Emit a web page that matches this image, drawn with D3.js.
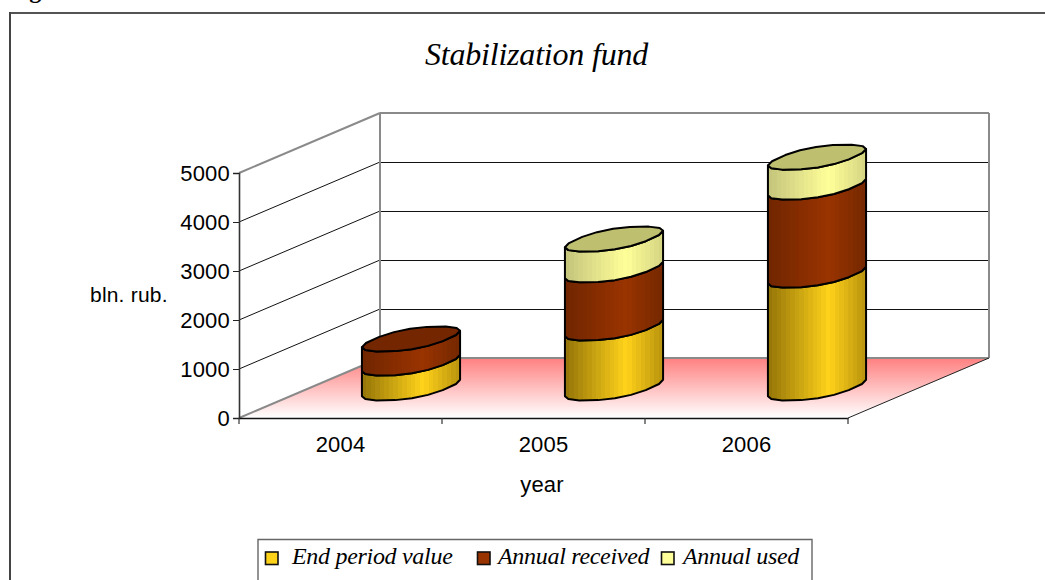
<!DOCTYPE html>
<html><head><meta charset="utf-8">
<script src="https://cdnjs.cloudflare.com/ajax/libs/d3/7.8.5/d3.min.js"></script>
<style>html,body{margin:0;padding:0;background:#fff;overflow:hidden}svg{display:block}</style>
</head><body><div id="chart"></div>
<script>
const categories = ["2004", "2005", "2006"];
const seriesNames = ["End period value", "Annual received", "Annual used"];
const endPeriodValue = [510, 1225, 2305];
const annualReceived = [490, 1185, 1795];
const annualUsed = [0, 630, 610];
const yTicks = [0, 1000, 2000, 3000, 4000, 5000];
const seriesValues = [endPeriodValue, annualReceived, annualUsed];

const seriesColors = [
  {left:"#937408", mid:"#ffd21a", right:"#b8930e", cap:"#c8a010"},
  {left:"#702500", mid:"#993300", right:"#742800", cap:"#732600"},
  {left:"#c4c47c", mid:"#ffff99", right:"#d4d482", cap:"#bfbf70"}
];

const W = 1045, H = 580;
const svg = d3.select("#chart").append("svg").attr("width", W).attr("height", H);
const defs = svg.append("defs");

const x = d3.scaleBand().domain(categories).range([239, 848]);
const y = d3.scaleLinear().domain([0, 5000]).range([418, 173]);
const depth = {x: 141, y: -60};
const backX = v => v + depth.x;
const backY = v => y(v) + depth.y;
const crisp = v => Math.round(v) + 0.5;

// frame
svg.append("line").attr("x1",10).attr("x2",W).attr("y1",13).attr("y2",13).attr("stroke","#1a1a1a").attr("stroke-width",1.6);
svg.append("line").attr("x1",10).attr("x2",10).attr("y1",12).attr("y2",H).attr("stroke","#444").attr("stroke-width",2);
svg.append("text").attr("x",8).attr("y",-2.5).attr("font-family","Liberation Serif").attr("font-weight","bold").attr("font-size",24).text("Figure");

// title
svg.append("text").attr("x",536.5).attr("y",65).attr("text-anchor","middle")
  .attr("font-family","Liberation Serif").attr("font-style","italic").attr("font-size",32).attr("letter-spacing",-0.2)
  .text("Stabilization fund");

// floor
const fg = defs.append("linearGradient").attr("id","floor").attr("x1",0).attr("x2",0).attr("y1",0).attr("y2",1);
fg.append("stop").attr("offset",0).attr("stop-color","#ff8080");
fg.append("stop").attr("offset",1).attr("stop-color","#ffffff");
const x0 = x.range()[0], x1 = x.range()[1];
svg.append("polygon").attr("fill","url(#floor)")
  .attr("points",[[x0,y(0)],[x1,y(0)],[backX(x1),backY(0)],[backX(x0),backY(0)]].join(" "));

// gridlines
yTicks.filter(t => t > 0 && t < 5000).forEach(t => {
  svg.append("line").attr("x1",x0).attr("y1",y(t)).attr("x2",backX(x0)).attr("y2",backY(t)).attr("stroke","#111").attr("stroke-width",1);
  svg.append("line").attr("x1",backX(x0)).attr("y1",crisp(backY(t))).attr("x2",backX(x1)).attr("y2",crisp(backY(t))).attr("stroke","#111").attr("stroke-width",1);
});
// walls
const wall = "#8a8a8a";
const wl = (a,b,c,d) => svg.append("line").attr("x1",a).attr("y1",b).attr("x2",c).attr("y2",d).attr("stroke",wall).attr("stroke-width",2);
wl(x0,y(5000),backX(x0),backY(5000));
wl(backX(x0),backY(5000),backX(x1),backY(5000));
wl(backX(x0),backY(5000),backX(x0),backY(0));
wl(backX(x1),backY(5000),backX(x1),backY(0));
wl(backX(x0),backY(0),backX(x1),backY(0));
wl(x0,y(0),backX(x0),backY(0));
svg.append("line").attr("x1",x1).attr("y1",y(0)).attr("x2",backX(x1)).attr("y2",backY(0)).attr("stroke","#222").attr("stroke-width",1);

// axes
const fontAxis = sel => sel.attr("font-family","Liberation Sans").attr("font-size",22).attr("letter-spacing",0.2).attr("fill","#000");
const yAxis = svg.append("g").attr("transform",`translate(${x0},0)`)
  .call(d3.axisLeft(y).tickValues(yTicks).tickSize(6).tickPadding(3).tickFormat(d3.format("d")));
yAxis.select(".domain").attr("stroke","#333").attr("stroke-width",1.6);
yAxis.selectAll("line").attr("stroke","#222");
yAxis.selectAll("text").call(fontAxis);
const xAxis = svg.append("g").attr("transform",`translate(0,${y(0)})`)
  .call(d3.axisBottom(x).tickSize(0).tickPadding(18));
xAxis.select(".domain").attr("stroke","#111").attr("stroke-width",1.4);
xAxis.selectAll("text").call(fontAxis);
[...categories.map(c => x(c)), x1].forEach(p =>
  svg.append("line").attr("x1",p).attr("x2",p).attr("y1",y(0)).attr("y2",y(0)+6).attr("stroke","#333").attr("stroke-width",1.2));

svg.append("text").call(fontAxis).attr("x",90).attr("y",302).attr("font-size",21).text("bln. rub.");
svg.append("text").call(fontAxis).attr("x",542).attr("y",492).attr("text-anchor","middle").text("year");

// banded gradients for cylinder bodies
const bands = 22;
seriesColors.forEach((c,i) => {
  const g = defs.append("linearGradient").attr("id","body"+i).attr("x1",0).attr("x2",1).attr("y1",0).attr("y2",0);
  const scale = d3.scaleLinear().domain([0,0.62,1]).range([c.left,c.mid,c.right]);
  d3.range(bands).forEach(b => {
    const col = scale((b+0.5)/bands);
    g.append("stop").attr("offset",b/bands).attr("stop-color",col);
    g.append("stop").attr("offset",(b+1)/bands).attr("stop-color",col);
  });
});

// cylinder geometry: a coarse, slightly squared circle skewed on the floor plane
const rx = 36.9, skewX = 28.6, skewY = 12.5, sides = 8, squareness = 0.85;
const phase0 = Math.atan2(skewX, rx);
const sq = v => Math.sign(v) * Math.pow(Math.abs(v), squareness);
const ringPoint = (cx, cy, t) => {
  const c = sq(Math.cos(t)), s = sq(Math.sin(t));
  return [cx + rx*c + skewX*s, cy - skewY*s];
};
const front = (cx, cy) => d3.range(sides+1).map(i => ringPoint(cx, cy, Math.PI + phase0 + (i/sides)*Math.PI));
const ring = (cx, cy) => d3.range(sides*2).map(i => ringPoint(cx, cy, phase0 + (i/(sides*2))*2*Math.PI));
const closed = d3.line().curve(d3.curveLinearClosed);

categories.forEach((cat,ci) => {
  const cx = x(cat) + x.bandwidth()/2 + depth.x/2;
  const centerY = v => y(v) + depth.y/2;
  let base = 0;
  const g = svg.append("g");
  let lastTop = 0, lastSeries = 0;
  seriesValues.forEach((vals,si) => {
    const v = vals[ci];
    if (!v) return;
    const top = base + v;
    const lower = front(cx, centerY(base));
    const upper = front(cx, centerY(top)).reverse();
    g.append("path").attr("d", closed(lower.concat(upper)))
      .attr("fill",`url(#body${si})`).attr("stroke","#000").attr("stroke-width",2).attr("stroke-linejoin","round");
    base = top; lastTop = top; lastSeries = si;
  });
  g.append("path").attr("d", closed(ring(cx, centerY(lastTop))))
    .attr("fill",seriesColors[lastSeries].cap).attr("stroke","#000").attr("stroke-width",2).attr("stroke-linejoin","round");
});

// legend
svg.append("path").attr("d","M258,581V539.5H812V581").attr("fill","none").attr("stroke","#666").attr("stroke-width",1.4);
const legendSwatchX = [265, 477, 661];
const legendTextX = [292, 498, 683];
seriesNames.forEach((n,i) => {
  svg.append("rect").attr("x",legendSwatchX[i]+0.5).attr("y",552).attr("width",12.5).attr("height",12.5)
    .attr("fill",seriesColors[i].mid).attr("stroke","#111").attr("stroke-width",1.6);
  svg.append("text").attr("x",legendTextX[i]).attr("y",564)
    .attr("font-family","Liberation Serif").attr("font-style","italic").attr("font-size",24).attr("letter-spacing",-0.3).text(n);
});
</script></body></html>
